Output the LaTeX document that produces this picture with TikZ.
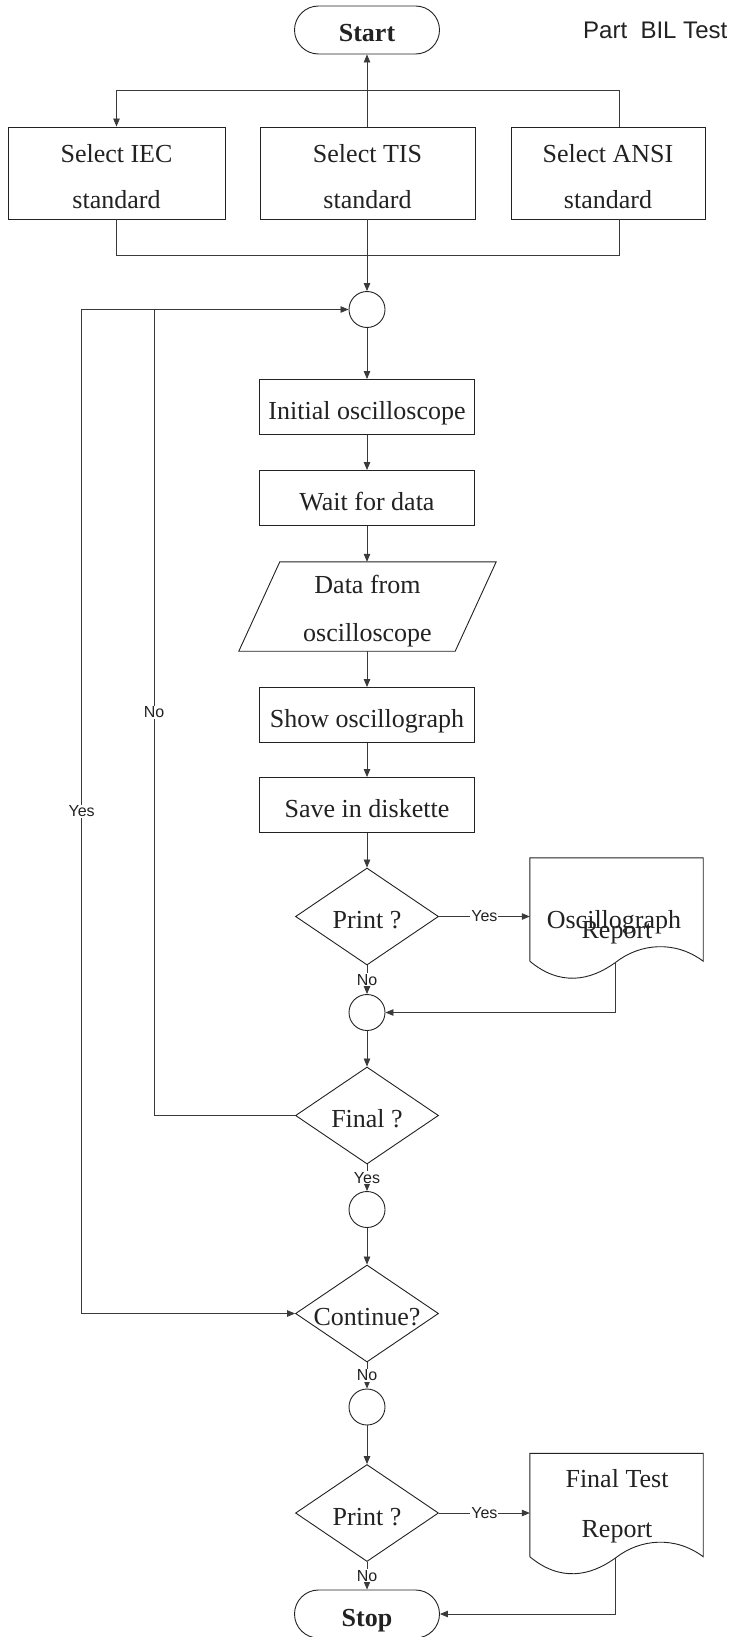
\documentclass[tikz,border=0pt]{standalone}
\usepackage{fontspec}
\setmainfont{Liberation Serif}
\newfontfamily\labelsans{Liberation Sans}
\usetikzlibrary{arrows.meta,shapes.geometric}
\definecolor{ink}{HTML}{222222}
\definecolor{wirecol}{HTML}{3A3A3A}

\begin{document}
\begin{tikzpicture}[x=1pt,y=-1pt,
  base/.style={draw=ink, line width=0.9pt, inner sep=0pt, text=ink,
    font=\fontsize{26}{30}\selectfont},
  oneline/.style={base, text height=24pt, text depth=0pt},
  terminal/.style={oneline, rectangle, rounded corners=24pt, minimum width=145pt,
    minimum height=48pt, font=\fontsize{26}{30}\selectfont\bfseries},
  process/.style={oneline, rectangle, minimum width=215pt, minimum height=55pt},
  choice/.style={base, rectangle, minimum height=92pt, align=center,
    font=\fontsize{26}{46}\selectfont},
  ioframe/.style={rectangle, inner sep=0pt, minimum width=216pt, minimum height=89pt},
  iotext/.style={inner sep=0pt, text=ink, align=center, font=\fontsize{26}{48}\selectfont},
  decision/.style={oneline, diamond, minimum width=143pt, minimum height=97pt},
  joint/.style={base, circle, minimum size=36pt},
  docframe/.style={rectangle, inner sep=0pt, minimum width=173pt, minimum height=103pt},
  docline/.style={draw=ink, line width=0.9pt},
  doctext/.style={text=ink, inner sep=0pt, anchor=base, font=\fontsize{26}{30}\selectfont},
  wire/.style={draw=wirecol, line width=0.8pt},
  flow/.style={wire, -{Triangle[length=8pt,width=6.5pt]}},
  tag/.style={fill=white, inner sep=1pt, text=ink, font=\labelsans\fontsize{16}{18}\selectfont},
]
\useasboundingbox (0,0) rectangle (731,1637);
\fill[white] (0,0) rectangle (731,1637);

% start and standard selection
\node[terminal] (start) at (367,30) {Start};
\node[anchor=base west, inner sep=0pt, text=ink,
  font=\labelsans\fontsize{24}{28}\selectfont] (part) at (583,38.3) {Part\ \ BIL Test};
\node[choice, minimum width=217pt] (iec) at (116.5,173)
  {\rule{0pt}{26pt}Select IEC\\standard};
\node[choice, minimum width=215pt] (tis) at (367.5,173)
  {\rule{0pt}{26pt}Select TIS\\standard};
\node[choice, minimum width=194pt] (ansi) at (608,173)
  {\rule{0pt}{26pt}Select ANSI\\standard};

% main measuring column
\node[joint] (c1) at (367,309.5) {};
\node[process] (init) at (367,407) {Initial oscilloscope};
\node[process] (wait) at (367,498) {Wait for data};
\node[ioframe] (data) at (367.5,606.5) {};
\node[iotext] (datatext) at (367.5,611) {Data from\\oscilloscope};
\draw[docline] ([xshift=-20.5pt]data.south west) -- ([xshift=20.5pt]data.north west)
  -- ([xshift=20.5pt]data.north east) -- ([xshift=-20.5pt]data.south east) -- cycle;
\node[process] (show) at (367,715) {Show oscillograph};
\node[process] (save) at (367,805) {Save in diskette};
\node[decision] (print1) at (367,916.5) {\makebox[0pt]{Print ?}};
\node[joint] (c2) at (367,1012.5) {};
\node[decision] (final) at (367,1115.5) {\makebox[0pt]{Final ?}};
\node[joint] (c3) at (367,1209.5) {};
\node[decision] (cont) at (367,1313.5) {\makebox[0pt]{Continue?}};
\node[joint] (c4) at (367,1407) {};
\node[decision] (print2) at (367,1513) {\makebox[0pt]{Print ?}};
\node[terminal] (stop) at (367,1614) {Stop};

% printed reports
\node[docframe] (rep1) at (616.5,909.5) {};
\node[doctext] (rep1a) at (614,928) {Oscillograph};
\node[doctext] (rep1b) at (617,938) {Report};
\node[docframe] (rep2) at (616.5,1505) {};
\node[doctext] (rep2a) at (617,1487) {Final Test};
\node[doctext] (rep2b) at (617,1537) {Report};

\coordinate (w1) at ([shift={(86,1)}]rep1.south west);
\coordinate (w2) at ([shift={(86,1)}]rep2.south west);
\foreach \r/\w in {rep1/w1, rep2/w2}{
  \draw[docline] (\r.south west) -- (\r.north west) -- (\r.north east) -- (\r.south east)
    .. controls ([shift={(-28,-21)}]\r.south east) and ([shift={(-63,-18)}]\r.south east) .. (\w)
    .. controls ([shift={(60,20)}]\r.south west) and ([shift={(30,25)}]\r.south west) .. (\r.south west);
}

% helper positions for buses and loop-back lines
\coordinate (ansitop) at ([xshift=11pt]ansi.north);
\coordinate (ansibot) at ([xshift=11pt]ansi.south);
\coordinate (busup) at (0,90.7);
\coordinate (busdown) at (0,255);
\coordinate (innerx) at (154,0);
\coordinate (outerx) at (81.6,0);

% connectors
\draw[flow] (tis.north -| start.south) -- (start.south);
\draw[flow] (ansitop) -- (ansitop |- busup) -- (iec.north |- busup) -- (iec.north);
\draw[wire] (iec.south) -- (iec.south |- busdown) -- (ansibot |- busdown) -- (ansibot);
\draw[flow] (tis.south -| c1.north) -- (c1.north);
\draw[flow] (c1.south) -- (init.north);
\draw[flow] (init.south) -- (wait.north);
\draw[flow] (wait.south) -- (wait.south |- data.north);
\draw[flow] (show.north |- data.south) -- (show.north);
\draw[flow] (show.south) -- (save.north);
\draw[flow] (save.south) -- (print1.north);
\draw[flow] (print1.east) -- node[tag]{Yes} (print1.east -| rep1.west);
\draw[flow] (print1.south) -- node[tag]{No} (c2.north);
\draw[flow] (w1) |- (c2.east);
\draw[flow] (c2.south) -- (final.north);
\draw[flow] (final.west) -- (final.west -| innerx) -- node[tag]{No} (c1.west -| innerx) -- (c1.west);
\draw[flow] (final.south) -- node[tag]{Yes} (c3.north);
\draw[flow] (c3.south) -- (cont.north);
\draw[flow] (c1.west -| innerx) -- (c1.west -| outerx) -- node[tag]{Yes} (cont.west -| outerx) -- (cont.west);
\draw[flow] (cont.south) -- node[tag]{No} (c4.north);
\draw[flow] (c4.south) -- (print2.north);
\draw[flow] (print2.east) -- node[tag]{Yes} (print2.east -| rep2.west);
\draw[flow] (print2.south) -- node[tag]{No} (stop.north);
\draw[flow] (w2) |- (stop.east);
\end{tikzpicture}
\end{document}
